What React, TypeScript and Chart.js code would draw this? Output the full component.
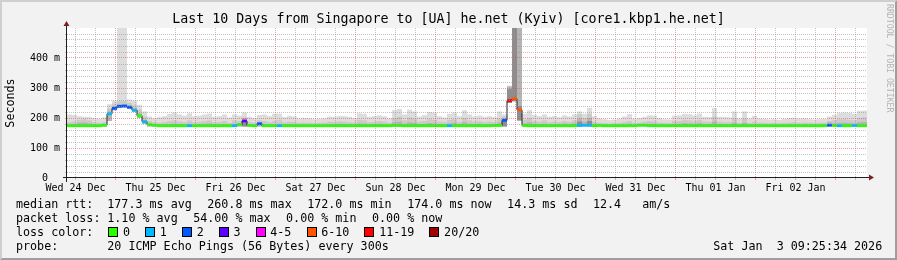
import { useEffect, useRef } from 'react';
import { Chart, registerables } from 'chart.js';

Chart.register(...registerables);

// ---- time axis: hours after Wed 24 Dec 00:00, 160 buckets of 1.5 h ----
const RANGE_START_HOUR = 9.45;
const RANGE_HOURS = 240;
const BUCKET_HOURS = 1.5;

const TITLE = 'Last 10 Days from Singapore to [UA] he.net (Kyiv) [core1.kbp1.he.net]';
const dayLabels = ['Wed 24 Dec', 'Thu 25 Dec', 'Fri 26 Dec', 'Sat 27 Dec', 'Sun 28 Dec', 'Mon 29 Dec', 'Tue 30 Dec', 'Wed 31 Dec', 'Thu 01 Jan', 'Fri 02 Jan', 'Sat 03 Jan'];
const yTickLabels = ['0  ', '100 m', '200 m', '300 m', '400 m'];

// median rtt (ms) per bucket
const medianMs = [
  174, 174, 174, 174, 174, 174, 174, 176, 214, 232, 239, 240, 236, 226, 208, 188,
  178, 176, 174, 174, 174, 174, 174, 174, 174, 174, 174, 174, 174, 174, 174, 174,
  174, 174, 178, 190, 175, 174, 181, 174, 174, 174, 174, 174, 174, 174, 174, 174,
  174, 174, 174, 174, 174, 174, 174, 174, 174, 174, 174, 174, 174, 174, 174, 174,
  174, 175, 175, 174, 174, 174, 174, 174, 174, 174, 174, 174, 174, 174, 174, 174,
  174, 174, 174, 174, 174, 175, 175, 192, 258, 264, 227, 175, 174, 174, 174, 174,
  174, 174, 174, 174, 174, 174, 175, 176, 176, 174, 175, 174, 174, 174, 174, 174,
  174, 174, 176, 176, 174, 174, 174, 174, 174, 174, 174, 174, 174, 174, 174, 174,
  174, 174, 174, 174, 174, 174, 174, 174, 174, 174, 174, 174, 174, 174, 174, 174,
  174, 174, 174, 174, 174, 174, 174, 174, 176, 175, 174, 174, 174, 175, 174, 174,
];

// lost pings (of 20) per bucket
const lossPings = [
  0, 0, 0, 0, 0, 0, 0, 0, 1, 2, 2, 2, 2, 1, 0, 1,
  0, 0, 0, 0, 0, 0, 0, 0, 1, 0, 0, 0, 0, 0, 0, 0,
  0, 1, 0, 3, 0, 0, 2, 0, 0, 0, 1, 0, 0, 0, 0, 0,
  0, 0, 0, 0, 0, 0, 0, 0, 0, 0, 0, 0, 0, 0, 0, 0,
  0, 0, 0, 0, 0, 0, 0, 0, 0, 0, 0, 0, 1, 0, 0, 0,
  0, 0, 0, 0, 0, 0, 0, 2, 15, 8, 8, 0, 0, 0, 0, 0,
  0, 0, 0, 0, 0, 0, 1, 1, 1, 0, 0, 0, 0, 0, 0, 0,
  0, 0, 0, 0, 0, 0, 0, 0, 0, 0, 0, 0, 0, 0, 0, 0,
  0, 0, 0, 0, 0, 0, 0, 0, 0, 0, 0, 0, 0, 0, 0, 0,
  0, 0, 0, 0, 0, 0, 0, 0, 2, 0, 1, 0, 0, 1, 0, 0,
];

// smoke: bottom of the ping spread (ms)
const smokeFloorMs = [
  172, 172, 172, 172, 172, 172, 172, 172, 190, 226, 234, 235, 230, 220, 200, 180,
  172, 172, 172, 172, 172, 172, 172, 172, 172, 172, 172, 172, 172, 172, 172, 172,
  172, 172, 172, 172, 172, 172, 172, 172, 172, 172, 172, 172, 172, 172, 172, 172,
  172, 172, 172, 172, 172, 172, 172, 172, 172, 172, 172, 172, 172, 172, 172, 172,
  172, 172, 172, 172, 172, 172, 172, 172, 172, 172, 172, 172, 172, 172, 172, 172,
  172, 172, 172, 172, 172, 172, 172, 172, 250, 256, 192, 172, 172, 172, 172, 172,
  172, 172, 172, 172, 172, 172, 172, 172, 172, 172, 172, 172, 172, 172, 172, 172,
  172, 172, 172, 172, 172, 172, 172, 172, 172, 172, 172, 172, 172, 172, 172, 172,
  172, 172, 172, 172, 172, 172, 172, 172, 172, 172, 172, 172, 172, 172, 172, 172,
  172, 172, 172, 172, 172, 172, 172, 172, 172, 172, 172, 172, 172, 172, 172, 172,
];

// smoke: outer (max) ping (ms)
const smokeMaxMs = [
  212, 210, 206, 204, 203, 200, 197, 202, 246, 258, 520, 520, 262, 258, 244, 222,
  205, 200, 203, 206, 214, 218, 212, 208, 216, 206, 208, 212, 215, 204, 206, 212,
  202, 212, 208, 218, 204, 200, 210, 212, 206, 214, 215, 203, 207, 205, 198, 200,
  199, 196, 197, 199, 205, 204, 207, 206, 204, 200, 216, 214, 204, 207, 209, 206,
  199, 226, 230, 212, 228, 222, 205, 210, 220, 218, 206, 202, 214, 218, 206, 226,
  212, 205, 208, 204, 206, 203, 222, 212, 308, 520, 520, 214, 226, 210, 206, 212,
  204, 207, 203, 209, 205, 212, 222, 214, 234, 206, 199, 196, 193, 195, 198, 205,
  213, 198, 200, 204, 209, 208, 200, 196, 195, 208, 209, 214, 213, 209, 215, 204,
  203, 233, 204, 203, 202, 222, 199, 222, 198, 207, 199, 197, 195, 196, 194, 197,
  200, 201, 198, 199, 196, 195, 196, 197, 205, 210, 217, 218, 217, 214, 224, 225,
];

// smoke: second ping from the top (ms)
const smokeMidMs = [
  186, 188, 194, 196, 192, 186, 184, 186, 232, 248, 256, 256, 250, 242, 228, 205,
  190, 186, 184, 186, 190, 192, 188, 186, 192, 186, 188, 190, 192, 186, 186, 190,
  184, 192, 190, 202, 186, 184, 192, 190, 186, 190, 194, 186, 188, 187, 184, 185,
  184, 183, 184, 185, 188, 187, 189, 188, 186, 185, 194, 192, 186, 188, 190, 188,
  184, 200, 204, 192, 202, 198, 188, 190, 196, 194, 188, 186, 194, 196, 188, 200,
  192, 188, 190, 186, 188, 187, 198, 205, 306, 520, 520, 194, 200, 190, 188, 192,
  186, 188, 186, 190, 187, 192, 212, 200, 214, 188, 184, 183, 182, 183, 184, 187,
  190, 184, 185, 188, 190, 189, 185, 184, 183, 190, 190, 194, 192, 190, 194, 188,
  187, 204, 188, 186, 186, 198, 184, 198, 184, 188, 185, 184, 183, 184, 183, 184,
  185, 186, 184, 185, 184, 183, 184, 185, 190, 192, 196, 196, 194, 192, 200, 202,
];

// smoke: third ping from the top (ms)
const smokeInnerMs = [
  179, 180, 184, 185, 182, 179, 178, 180, 222, 240, 246, 246, 242, 232, 215, 194,
  182, 180, 178, 179, 180, 181, 180, 179, 181, 179, 180, 181, 182, 179, 179, 180,
  178, 181, 182, 200, 179, 178, 184, 180, 179, 180, 181, 179, 180, 179, 178, 179,
  178, 178, 178, 179, 180, 180, 181, 180, 179, 179, 182, 181, 179, 180, 181, 180,
  178, 186, 188, 181, 186, 184, 180, 181, 183, 182, 180, 179, 182, 184, 180, 186,
  181, 180, 181, 179, 180, 180, 184, 200, 304, 520, 520, 182, 186, 181, 180, 181,
  179, 180, 179, 181, 180, 182, 198, 188, 200, 181, 178, 178, 177, 178, 178, 179,
  181, 178, 179, 180, 181, 181, 179, 178, 178, 181, 181, 183, 182, 181, 183, 180,
  180, 188, 180, 179, 179, 184, 178, 184, 178, 180, 179, 178, 178, 178, 178, 178,
  179, 179, 178, 179, 178, 178, 178, 179, 185, 182, 184, 184, 183, 182, 186, 187,
];

// dense core of the smoke, only where visible: [bucket, top ms]
const smokeCore: [number, number][] = [[35, 193], [87, 192], [88, 296], [89, 520], [90, 240], [102, 188], [104, 190]];

// loss colour legend: upper bound of lost pings -> colour
const lossLegend: { max: number; label: string; color: string }[] = [
  { max: 0, label: '0', color: '#26ff00' },
  { max: 1, label: '1', color: '#00b8ff' },
  { max: 2, label: '2', color: '#0059ff' },
  { max: 3, label: '3', color: '#5e00ff' },
  { max: 5, label: '4-5', color: '#ff00ff' },
  { max: 10, label: '6-10', color: '#ff5500' },
  { max: 19, label: '11-19', color: '#ff0000' },
  { max: 20, label: '20/20', color: '#a00000' },
];

const medianStats = ['177.3 ms avg', '260.8 ms max', '172.0 ms min', '174.0 ms now', '14.3 ms sd', '12.4   am/s'];
const lossStats = ['1.10 % avg', '54.00 % max', '0.00 % min', '0.00 % now'];
const probeText = '20 ICMP Echo Pings (56 Bytes) every 300s';
const stampText = 'Sat Jan  3 09:25:34 2026';

const MONO = '"DejaVu Sans Mono", monospace';
const MGRID = 'rgba(222,79,79,0.55)';
const GRID = 'rgba(143,143,143,0.55)';

const bucketHour = (k: number) => RANGE_START_HOUR + BUCKET_HOURS * (k + 0.5);
const lossColor = (n: number) => (lossLegend.find((l) => n <= l.max) || lossLegend[lossLegend.length - 1]).color;

const framePlugin = {
  id: 'rrdFrame',
  beforeDraw(chart: any) {
    const { ctx, width: W, height: H, chartArea: a } = chart;
    ctx.save();
    ctx.fillStyle = '#f2f2f2';
    ctx.fillRect(0, 0, W, H);
    ctx.fillStyle = '#cfcfcf';
    ctx.beginPath();
    ctx.moveTo(0, 0); ctx.lineTo(W, 0); ctx.lineTo(W - 2, 2); ctx.lineTo(2, 2); ctx.lineTo(2, H - 2); ctx.lineTo(0, H);
    ctx.closePath(); ctx.fill();
    ctx.fillStyle = '#9e9e9e';
    ctx.beginPath();
    ctx.moveTo(W, H); ctx.lineTo(0, H); ctx.lineTo(2, H - 2); ctx.lineTo(W - 2, H - 2); ctx.lineTo(W - 2, 2); ctx.lineTo(W, 0);
    ctx.closePath(); ctx.fill();
    ctx.fillStyle = '#ffffff';
    ctx.fillRect(a.left, a.top, a.right - a.left, a.bottom - a.top);
    ctx.restore();
  },
  afterDraw(chart: any) {
    const { ctx, chartArea: a } = chart;
    const ax = a.left - 0.5;
    const ay = a.bottom - 0.5;
    ctx.save();
    ctx.strokeStyle = '#1f1f1f';
    ctx.lineWidth = 1;
    ctx.beginPath();
    ctx.moveTo(a.left - 4, ay); ctx.lineTo(a.right + 4, ay);
    ctx.moveTo(ax, a.bottom + 4); ctx.lineTo(ax, a.top - 4);
    ctx.stroke();
    ctx.fillStyle = '#801f1f';
    ctx.beginPath();
    ctx.moveTo(a.right + 2, ay - 3); ctx.lineTo(a.right + 2, ay + 3); ctx.lineTo(a.right + 7, ay);
    ctx.closePath(); ctx.fill();
    ctx.beginPath();
    ctx.moveTo(ax - 3, a.top - 2); ctx.lineTo(ax + 3, a.top - 2); ctx.lineTo(ax, a.top - 7);
    ctx.closePath(); ctx.fill();
    ctx.restore();
  },
};

function smokeLayer(tops: number[], color: string, order: number) {
  return {
    type: 'bar' as const,
    data: tops.map((t, k) => ({ x: bucketHour(k), y: [smokeFloorMs[k], t] })),
    backgroundColor: color,
    order,
  };
}

export default function App() {
  const ref = useRef<HTMLCanvasElement>(null);

  useEffect(() => {
    const canvas = ref.current;
    if (!canvas) return;
    const chart = new Chart(canvas, {
      type: 'bar',
      data: {
        datasets: [
          {
            type: 'line',
            data: medianMs.map((m, k) => ({ x: bucketHour(k), y: m })),
            stepped: 'middle',
            borderColor: '#202020',
            borderWidth: 1,
            pointRadius: 0,
            fill: false,
            order: 2,
          } as any,
          {
            type: 'bar',
            data: medianMs.map((m, k) => ({ x: bucketHour(k), y: [m - 4.5, m + 4.5] })),
            backgroundColor: lossPings.map(lossColor),
            order: 1,
          } as any,
          {
            type: 'bar',
            data: smokeCore.map(([k, t]) => ({ x: bucketHour(k), y: [smokeFloorMs[k], t] })),
            backgroundColor: '#8e8e8e',
            order: 3,
          } as any,
          smokeLayer(smokeInnerMs, '#b4b4b4', 4) as any,
          smokeLayer(smokeMidMs, '#cacaca', 5) as any,
          smokeLayer(smokeMaxMs, '#dddddd', 6) as any,
        ],
      },
      options: {
        animation: false,
        responsive: false,
        devicePixelRatio: 1,
        events: [],
        layout: { padding: { left: 0, right: 30, top: 28, bottom: 0 } },
        datasets: {
          bar: { grouped: false, barPercentage: 1, categoryPercentage: 1, borderWidth: 0, inflateAmount: 0 } as any,
        },
        plugins: { legend: { display: false }, tooltip: { enabled: false }, title: { display: false } },
        scales: {
          x: {
            type: 'linear',
            offset: false,
            min: RANGE_START_HOUR,
            max: RANGE_START_HOUR + RANGE_HOURS,
            afterBuildTicks: (s: any) => {
              const t = [];
              for (let h = Math.ceil(s.min / 6) * 6; h <= s.max; h += 6) t.push({ value: h });
              s.ticks = t;
            },
            afterFit: (s: any) => { s.height = 82; },
            ticks: {
              autoSkip: false,
              maxRotation: 0,
              minRotation: 0,
              padding: 2,
              color: '#000',
              font: { family: MONO, size: 10 },
              callback: (v: any) => (Number(v) % 24 === 12 ? dayLabels[Math.floor(Number(v) / 24)] : ''),
            },
            grid: {
              z: 1,
              offset: false,
              lineWidth: 1,
              tickLength: 2,
              color: (c: any) => (c.tick && c.tick.value % 24 === 0 ? MGRID : GRID),
              tickColor: (c: any) => (c.tick && c.tick.value % 24 === 0 ? MGRID : GRID),
            },
            border: { display: false, dash: [1, 1] },
          } as any,
          y: {
            type: 'linear',
            min: 0,
            max: 500,
            afterBuildTicks: (s: any) => {
              const t = [];
              for (let v = 0; v <= 500; v += 20) t.push({ value: v });
              s.ticks = t;
            },
            afterFit: (s: any) => { s.width = 67; },
            ticks: {
              autoSkip: false,
              padding: 5,
              color: '#000',
              font: { family: MONO, size: 10 },
              callback: (v: any) => (Number(v) % 100 === 0 && Number(v) < 500 ? yTickLabels[Number(v) / 100] : ''),
            },
            grid: {
              z: 1,
              lineWidth: 1,
              tickLength: 2,
              color: (c: any) => {
                const v = c.tick ? c.tick.value : 0;
                if (v === 0 || v === 500) return 'rgba(0,0,0,0)';
                return v % 100 === 0 ? MGRID : GRID;
              },
              tickColor: (c: any) => {
                const v = c.tick ? c.tick.value : 0;
                if (v === 0 || v === 500) return 'rgba(0,0,0,0)';
                return v % 100 === 0 ? MGRID : GRID;
              },
            },
            border: { display: false, dash: [1, 1] },
            title: {
              display: true,
              text: 'Seconds',
              color: '#000',
              font: { family: MONO, size: 11.7 },
              padding: { top: 4, bottom: 0 },
            },
          } as any,
        },
      },
      plugins: [framePlugin],
    } as any);
    return () => chart.destroy();
  }, []);

  const abs = (left: number, top: number): React.CSSProperties => ({
    position: 'absolute',
    left,
    top,
    font: `11.7px/14px ${MONO}`,
    color: '#000',
    whiteSpace: 'pre',
  });

  return (
    <div style={{ position: 'absolute', left: 0, top: 0, width: 897, height: 260, overflow: 'hidden' }}>
      <canvas ref={ref} width={897} height={260} style={{ display: 'block', width: 897, height: 260 }} />
      <div style={{ position: 'absolute', left: 0, top: 11, width: 897, textAlign: 'center', font: `13.3px/16px ${MONO}`, color: '#000', whiteSpace: 'pre' }}>
        {TITLE}
      </div>
      <div style={{ position: 'absolute', left: 885, top: 4, writingMode: 'vertical-rl', font: `8.2px/10px ${MONO}`, color: '#b4b4b4', whiteSpace: 'pre' }}>
        RRDTOOL / TOBI OETIKER
      </div>

      <div style={abs(16, 197)}>median rtt:</div>
      <div style={{ ...abs(107.3, 197), display: 'flex' }}>
        {medianStats.map((s, i) => (
          <span key={i} style={{ marginRight: 15.5 }}>{s}</span>
        ))}
      </div>

      <div style={abs(16, 211)}>packet loss:</div>
      <div style={{ ...abs(107.3, 211), display: 'flex' }}>
        {lossStats.map((s, i) => (
          <span key={i} style={{ marginRight: 15.5 }}>{s}</span>
        ))}
      </div>

      <div style={abs(16, 225)}>loss color:</div>
      <div style={{ ...abs(108.3, 225), display: 'flex', alignItems: 'center', height: 14 }}>
        {lossLegend.map((l) => (
          <span key={l.label} style={{ display: 'flex', alignItems: 'center' }}>
            <span style={{ display: 'inline-block', width: 10, height: 10, boxSizing: 'border-box', border: '1px solid #000', background: l.color, marginRight: 4.7 }} />
            <span style={{ marginRight: 15.1 }}>{l.label}</span>
          </span>
        ))}
      </div>

      <div style={abs(16, 239)}>probe:</div>
      <div style={abs(107.3, 239)}>{probeText}</div>
      <div style={abs(713.3, 239)}>{stampText}</div>
    </div>
  );
}
